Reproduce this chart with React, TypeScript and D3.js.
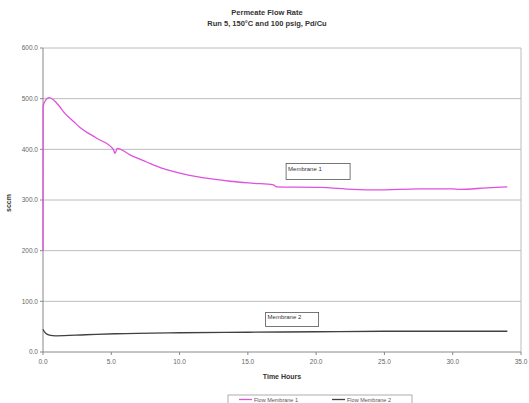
import React from "react";
import * as d3 from "d3";

const titleLines = ["Permeate Flow Rate", "Run 5,  150°C and 100 psig,  Pd/Cu"];
const xLabel = "Time Hours";
const yLabel = "sccm";
const xTicks = [0, 5, 10, 15, 20, 25, 30, 35];
const yTicks = [0, 100, 200, 300, 400, 500, 600];

const m1Time = [0, 0.01, 0.15, 0.44, 0.8, 1.2, 1.6, 2.2, 2.71, 3.93, 5.15, 5.27, 5.44, 6.37, 7.59, 8.81, 10.03, 11.25, 12.47, 13.69, 15.4, 16.86, 17.1, 20.3, 22.7, 24.4, 27.6, 30.0, 30.5, 32.5, 34.0];
const m1Flow = [200, 485, 495, 502, 497, 485, 471, 456, 443, 422, 400, 392, 402, 389, 375, 362, 353, 346, 341, 337, 333, 330, 326, 325, 321, 320, 322, 322, 321, 324, 326];

const m2Time = [0, 0.1, 0.2, 0.46, 0.95, 3.1, 5.3, 10, 15, 20, 25, 30, 34.0];
const m2Flow = [45, 40, 37, 33.5, 32, 34, 36, 38, 39, 40, 41, 41, 41];

const seriesNames = ["Flow Membrane 1", "Flow Membrane 2"];
const seriesColors = ["#e050e0", "#404040"];
const annotations = [
  { text: "Membrane 1", t: 17.8, v: 372 },
  { text: "Membrane 2", t: 16.3, v: 78 },
];

export default function App() {
  const W = 529, H = 403;
  const x = d3.scaleLinear().domain([0, 35]).range([43, 521]);
  const y = d3.scaleLinear().domain([0, 600]).range([352, 48]);
  const font = "Liberation Sans, Arial, sans-serif";
  const mk = d3.line<[number, number]>().x(d => x(d[0])).y(d => y(d[1])).curve(d3.curveMonotoneX);
  const p1 = mk(m1Time.map((t, i) => [t, m1Flow[i]] as [number, number]));
  const p2 = mk(m2Time.map((t, i) => [t, m2Flow[i]] as [number, number]));
  return (
    <svg width={W} height={H} style={{ position: "absolute", left: 0, top: 0, background: "#fff" }} fontFamily={font}>
      <rect x={0} y={0} width={W} height={H} fill="#fff" />
      {titleLines.map((t, i) => (
        <text key={i} x={267} y={15 + i * 11} textAnchor="middle" fontSize={7.5} fontWeight="bold" fill="#333">{t}</text>
      ))}
      {yTicks.map(v => (
        <g key={v}>
          {v > 0 && <line x1={x(0)} x2={x(35)} y1={y(v)} y2={y(v)} stroke="#bcbcbc" strokeWidth={1} />}
          <line x1={x(0) - 3} x2={x(0)} y1={y(v)} y2={y(v)} stroke="#888" />
          <text x={x(0) - 5} y={y(v)} dy="0.35em" textAnchor="end" fontSize={6.5} fill="#666">{v.toFixed(1)}</text>
        </g>
      ))}
      <line x1={x(35)} x2={x(35)} y1={y(600)} y2={y(0)} stroke="#bcbcbc" />
      <line x1={x(0)} x2={x(0)} y1={y(600)} y2={y(0)} stroke="#888" />
      <line x1={x(0)} x2={x(35)} y1={y(0)} y2={y(0)} stroke="#888" />
      {xTicks.map(t => (
        <g key={t}>
          <line x1={x(t)} x2={x(t)} y1={y(0)} y2={y(0) + 3} stroke="#888" />
          <text x={x(t)} y={y(0) + 12} textAnchor="middle" fontSize={6.5} fill="#666">{t.toFixed(1)}</text>
        </g>
      ))}
      <text x={282} y={379} textAnchor="middle" fontSize={7} fontWeight="bold" fill="#333">{xLabel}</text>
      <text transform="translate(11,203) rotate(-90)" textAnchor="middle" fontSize={7} fontWeight="bold" fill="#333">{yLabel}</text>
      <path d={p1 || ""} fill="none" stroke={seriesColors[0]} strokeWidth={1.3} />
      <path d={p2 || ""} fill="none" stroke={seriesColors[1]} strokeWidth={1.3} />
      {annotations.map((a, i) => (
        <g key={i}>
          <rect x={x(a.t)} y={y(a.v)} width={i === 0 ? 64 : 53} height={i === 0 ? 16 : 14} fill="#fff" stroke="#555" strokeWidth={0.8} />
          <text x={x(a.t) + 2} y={y(a.v) + 7} fontSize={6} fill="#333">{a.text}</text>
        </g>
      ))}
      <rect x={228} y={395} width={184} height={12} fill="#fff" stroke="#999" strokeWidth={0.8} />
      {seriesNames.map((n, i) => {
        const lx = i === 0 ? 239 : 332;
        return (
          <g key={n}>
            <line x1={lx} x2={lx + 13} y1={399.5} y2={399.5} stroke={seriesColors[i]} strokeWidth={1.3} />
            <text x={lx + 15} y={401.5} fontSize={5.5} fill="#555">{n}</text>
          </g>
        );
      })}
    </svg>
  );
}
